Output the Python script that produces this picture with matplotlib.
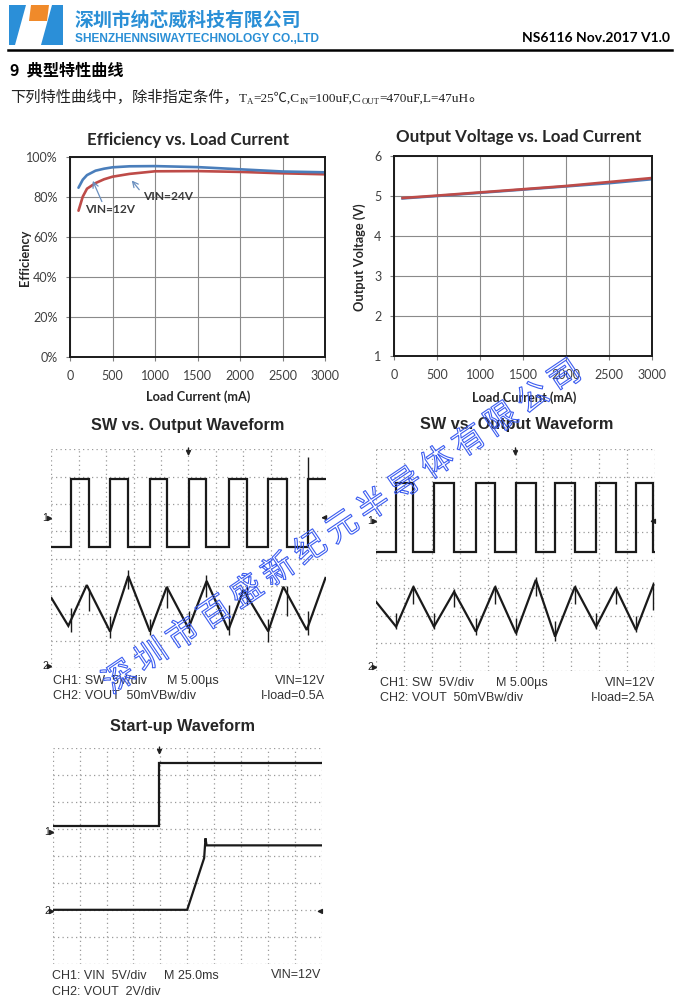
import matplotlib
matplotlib.use('Agg')
import matplotlib.pyplot as plt
from matplotlib.patches import Polygon
import matplotlib.patheffects as pe

# ---------------- data ----------------
load_ticks = [0, 500, 1000, 1500, 2000, 2500, 3000]
eff_ticks = [0, 20, 40, 60, 80, 100]
eff_load = [100, 150, 200, 300, 400, 500, 700, 1000, 1500, 2000, 2500, 3000]
eff_vin12 = [84.5, 88.5, 90.8, 93.0, 94.0, 94.7, 95.2, 95.3, 94.8, 93.7, 92.6, 92.2]
eff_vin24 = [73.0, 80.0, 84.0, 86.8, 88.7, 90.0, 91.4, 92.7, 92.8, 92.4, 91.7, 91.2]

vout_ticks = [1, 2, 3, 4, 5, 6]
vout_load = [100, 500, 1000, 1500, 2000, 2500, 3000]
vout_vin12 = [4.94, 5.00, 5.08, 5.16, 5.24, 5.32, 5.42]
vout_vin24 = [4.95, 5.01, 5.09, 5.17, 5.25, 5.35, 5.45]

# scope 1 (I-load = 0.5A), units: divisions
s1_edges = [0.715, 1.394, 2.145, 2.812, 3.60, 4.206, 5.018, 5.624, 6.473, 7.115, 7.903, 8.57, 9.358]
s1_sw_low, s1_sw_high = 4.44, 6.90
s1_sw_spk_t = [9.358]
s1_sw_spk_lo = [6.90]
s1_sw_spk_hi = [7.72]
s1_rip_t = [0.02, 0.63, 1.30, 2.15, 2.81, 3.60, 4.21, 5.00, 5.66, 6.45, 7.00, 7.90, 8.45, 9.30, 9.98]
s1_rip_v = [2.56, 1.55, 3.04, 1.34, 3.37, 1.34, 2.97, 1.46, 3.19, 1.40, 2.86, 1.35, 2.98, 1.40, 3.30]
s1_spk_lo = [1.33, 2.10, 1.10, 2.90, 1.20, 2.20, 1.30, 2.60, 1.20, 2.30, 0.95, 1.90, 1.20]
s1_spk_hi = [2.20, 2.90, 1.90, 3.60, 1.80, 3.00, 2.10, 3.40, 2.30, 3.00, 1.80, 3.00, 2.10]

# scope 2 (I-load = 2.5A)
s2_edges = [0.717, 1.338, 2.079, 2.796, 3.584, 4.265, 5.018, 5.735, 6.416, 7.133, 7.885, 8.602, 9.319, 9.94]
s2_sw_low, s2_sw_high = 4.31, 6.80
s2_rip_t = [0.00, 0.72, 1.34, 2.08, 2.80, 3.58, 4.27, 5.02, 5.73, 6.42, 7.13, 7.89, 8.60, 9.32, 9.94]
s2_rip_v = [2.50, 1.60, 3.04, 1.60, 2.86, 1.42, 3.04, 1.36, 3.29, 1.24, 3.04, 1.60, 2.99, 1.48, 3.10]
s2_spk_lo = [1.50, 2.40, 1.50, 2.30, 1.30, 2.40, 1.30, 2.70, 1.10, 2.40, 1.50, 2.40, 1.40, 2.20]
s2_spk_hi = [2.10, 3.10, 2.10, 2.95, 1.90, 3.10, 1.90, 3.40, 1.80, 3.10, 2.10, 3.05, 2.00, 3.20]

# scope 3 (start-up)
s3_ch1_t = [0.0, 3.96, 3.96, 10.0]
s3_ch1_v = [5.12, 5.12, 7.44, 7.44]
s3_ch2_t = [0.0, 5.00, 5.63, 5.68, 5.72, 10.0]
s3_ch2_v = [2.01, 2.01, 3.93, 4.66, 4.40, 4.40]

watermark = "深圳市百盛新纪元半导体有限公司"

# ---------------- figure ----------------
W, H = 681, 1000
fig = plt.figure(figsize=(6.81, 10), dpi=100)
fig.patch.set_facecolor('white')
CJK = ['Noto Sans CJK SC', 'DejaVu Sans']


def rect(l, t, r, b):
    return [l / W, 1 - b / H, (r - l) / W, (b - t) / H]


def X(px):
    return px / W


def Y(py):
    return 1 - py / H


# ---- header ----
hdr = fig.add_axes([0, 0, 1, 1], zorder=-5)
hdr.set_xlim(0, W)
hdr.set_ylim(H, 0)
hdr.axis('off')
blue_logo = '#2b8fd8'
hdr.add_patch(Polygon([(9, 5), (26, 5), (15, 45), (9, 45)], closed=True, fc=blue_logo, ec='none'))
hdr.add_patch(Polygon([(31, 5), (49, 5), (47, 21), (29, 21)], closed=True, fc='#f08a2a', ec='none'))
hdr.add_patch(Polygon([(52, 5), (63, 5), (63, 45), (41, 45)], closed=True, fc=blue_logo, ec='none'))
hdr.plot([8, 672], [50, 50], color='black', lw=1.8)

fig.text(X(75), Y(20), "深圳市纳芯威科技有限公司", family=CJK, fontweight='bold',
         fontsize=13.6, color='#2a8fd6', va='center', ha='left')
fig.text(X(75), Y(39), "SHENZHENNSIWAYTECHNOLOGY CO.,LTD", family='Liberation Sans',
         fontweight='bold', fontsize=8.6, color='#2a8fd6', va='center', ha='left')
fig.text(X(670), Y(38), "NS6116 Nov.2017 V1.0", family='Lato', fontweight='bold',
         fontsize=10, color='black', va='center', ha='right')
fig.text(X(10), Y(70), "9  典型特性曲线", family=CJK, fontweight='bold',
         fontsize=11.6, color='black', va='center', ha='left')

# description line with subscripts
fig.canvas.draw()
renderer = fig.canvas.get_renderer()
SER = ['Liberation Serif', 'Noto Sans CJK SC']
segs = [("下列特性曲线中，除非指定条件，", 0, 11.0, CJK),
        ("T", 0, 9.5, SER),
        ("A", -2.5, 6.3, SER),
        ("=25℃,C", 0, 9.5, SER),
        ("IN", -2.5, 6.3, SER),
        ("=100uF,C", 0, 9.5, SER),
        ("OUT", -2.5, 6.3, SER),
        ("=470uF,L=47uH", 0, 9.5, SER),
        ("。", 0, 11.0, CJK)]
xcur = 10
for s, dy, fs, fam in segs:
    t = fig.text(X(xcur), Y(101.5 - dy), s, family=fam, fontsize=fs, color='#222222',
                 va='baseline', ha='left')
    xcur += t.get_window_extent(renderer).width

# ---- Excel-like charts ----
series_blue = '#4a7ebb'
series_red = '#be4b48'


def excel_axes(r, xt, yt, ylim, yfmt):
    ax = fig.add_axes(r)
    ax.set_xlim(0, 3000)
    ax.set_ylim(*ylim)
    ax.set_xticks(xt)
    ax.set_yticks(yt)
    ax.set_yticklabels([yfmt(v) for v in yt])
    ax.grid(True, color='#8a8a8a', lw=0.8)
    ax.set_axisbelow(True)
    for sp in ax.spines.values():
        sp.set_color('#1a1a1a')
        sp.set_linewidth(1.4)
    ax.tick_params(direction='out', length=3, width=0.8, color='#808080',
                   labelcolor='#404040', labelsize=9)
    ax.tick_params(axis='x', pad=6.5)
    ax.tick_params(axis='y', pad=6)
    for lab in ax.get_xticklabels() + ax.get_yticklabels():
        lab.set_family('Lato')
    return ax


ax1 = excel_axes(rect(70, 156.7, 325, 356.7), load_ticks, eff_ticks, (0, 100),
                 lambda v: f"{v:d}%")
ax1.plot(eff_load, eff_vin24, color=series_red, lw=1.9, solid_capstyle='round')
ax1.plot(eff_load, eff_vin12, color=series_blue, lw=1.9, solid_capstyle='round')
ax1.annotate("", xy=(255, 89.2), xytext=(388, 76.3),
             arrowprops=dict(arrowstyle='->', color='#6a8fbf', lw=0.9))
ax1.annotate("", xy=(706, 89.2), xytext=(835, 82.4),
             arrowprops=dict(arrowstyle='->', color='#6a8fbf', lw=0.9))
ax1.text(175, 73.6, "VIN=12V", family='Lato', fontweight='bold', fontsize=8.6,
         color='#3a3a3a', va='center', ha='left')
ax1.text(855, 80.2, "VIN=24V", family='Lato', fontweight='bold', fontsize=8.6,
         color='#3a3a3a', va='center', ha='left')
fig.text(X(188), Y(140), "Efficiency vs. Load Current", family='Lato', fontweight='bold',
         fontsize=12.2, color='#262626', ha='center', va='center')
fig.text(X(198), Y(397), "Load Current (mA)", family='Lato', fontweight='bold',
         fontsize=9.2, color='#262626', ha='center', va='center')
fig.text(X(25), Y(258), "Efficiency", family='Lato', fontweight='bold',
         fontsize=9.2, color='#262626', ha='center', va='center', rotation=90)

ax2 = excel_axes(rect(394, 156, 652, 356), load_ticks, vout_ticks, (1, 6),
                 lambda v: f"{v:d}")
ax2.plot(vout_load, vout_vin12, color=series_blue, lw=1.9)
ax2.plot(vout_load, vout_vin24, color=series_red, lw=1.9)
fig.text(X(519), Y(137), "Output Voltage vs. Load Current", family='Lato', fontweight='bold',
         fontsize=12.2, color='#262626', ha='center', va='center')
fig.text(X(524), Y(398), "Load Current (mA)", family='Lato', fontweight='bold',
         fontsize=9.2, color='#262626', ha='center', va='center')
fig.text(X(360), Y(257), "Output Voltage (V)", family='Lato', fontweight='bold',
         fontsize=9.2, color='#262626', ha='center', va='center', rotation=90)


# ---- scope screens ----
def square(edges, lo, hi):
    xs, ys = [0.0], [lo]
    level = lo
    for e in edges:
        new = hi if level == lo else lo
        xs += [e, e]
        ys += [level, new]
        level = new
    xs.append(10.0)
    ys.append(level)
    return xs, ys


def scope_axes(r, ch1_mark, ch2_mark, right_mark, trig_x):
    ax = fig.add_axes(r)
    ax.set_xlim(0, 10)
    ax.set_ylim(0, 8)
    ax.axis('off')
    dot = dict(color='#9a9a9a', lw=0.9, ls=(0, (1, 2.6)), zorder=1)
    for i in range(11):
        ax.plot([i, i], [0, 8], **dot)
    for j in range(9):
        ax.plot([0, 10], [j, j], **dot)
    ax.text(-0.1, ch1_mark, "1", fontsize=7.5, family='Liberation Sans', ha='right', va='center',
            color='#222222')
    ax.plot([-0.08], [ch1_mark], marker='>', ms=3, color='#222222', clip_on=False)
    ax.text(-0.1, ch2_mark, "2", fontsize=7.5, family='Liberation Sans', ha='right', va='center',
            color='#222222')
    ax.plot([-0.08], [ch2_mark], marker='>', ms=3, color='#222222', clip_on=False)
    ax.annotate("", xy=(trig_x, 7.65), xytext=(trig_x, 8.15),
                arrowprops=dict(arrowstyle='-|>', color='#222222', lw=1.0, mutation_scale=7),
                annotation_clip=False)
    ax.annotate("", xy=(9.72, right_mark), xytext=(10.1, right_mark),
                arrowprops=dict(arrowstyle='-|>', color='#222222', lw=1.0, mutation_scale=7),
                annotation_clip=False)
    return ax


TR = dict(color='#1a1a1a', lw=1.6, zorder=3, solid_joinstyle='miter')
SPK = dict(color='#1a1a1a', lw=1.0, zorder=3)
sfont = dict(family='Liberation Sans', fontsize=9, color='#333333', va='center')
tfont = dict(family='Liberation Sans', fontweight='bold', fontsize=11.7, color='#262626',
             ha='center', va='center')

# scope 1
sa = scope_axes(rect(51, 449.3, 326, 668.3), 5.5, 0.1, 5.5, 5.0)
xs, ys = square(s1_edges, s1_sw_low, s1_sw_high)
sa.plot(xs, ys, **TR)
sa.vlines(s1_sw_spk_t, s1_sw_spk_lo, s1_sw_spk_hi, **SPK)
sa.plot(s1_rip_t, s1_rip_v, **TR)
sa.vlines(s1_edges, s1_spk_lo, s1_spk_hi, **SPK)
fig.text(X(188), Y(426), "SW vs. Output Waveform", **tfont)
fig.text(X(53), Y(681), "CH1: SW  5V/div", ha='left', **sfont)
fig.text(X(167), Y(681), "M 5.00µs", ha='left', **sfont)
fig.text(X(325), Y(681), "VIN=12V", ha='right', **sfont)
fig.text(X(53), Y(696), "CH2: VOUT  50mVBw/div", ha='left', **sfont)
fig.text(X(325), Y(696), "I-load=0.5A", ha='right', **sfont)

# scope 2
sb = scope_axes(rect(376, 449.3, 655, 671), 5.4, 0.15, 5.4, 5.0)
xs, ys = square(s2_edges, s2_sw_low, s2_sw_high)
sb.plot(xs, ys, **TR)
sb.plot(s2_rip_t, s2_rip_v, **TR)
sb.vlines(s2_edges, s2_spk_lo, s2_spk_hi, **SPK)
fig.text(X(517), Y(425), "SW vs. Output Waveform", **tfont)
fig.text(X(380), Y(683), "CH1: SW  5V/div", ha='left', **sfont)
fig.text(X(496), Y(683), "M 5.00µs", ha='left', **sfont)
fig.text(X(655), Y(683), "VIN=12V", ha='right', **sfont)
fig.text(X(380), Y(698), "CH2: VOUT  50mVBw/div", ha='left', **sfont)
fig.text(X(655), Y(698), "I-load=2.5A", ha='right', **sfont)

# scope 3
sc = scope_axes(rect(52.7, 748.3, 321.7, 964), 4.9, 1.98, 1.95, 3.97)
sc.plot(s3_ch1_t, s3_ch1_v, **TR)
sc.plot(s3_ch2_t, s3_ch2_v, **TR)
fig.text(X(183), Y(726), "Start-up Waveform", **tfont)
fig.text(X(52), Y(976), "CH1: VIN  5V/div", ha='left', **sfont)
fig.text(X(164), Y(976), "M 25.0ms", ha='left', **sfont)
fig.text(X(321), Y(975), "VIN=12V", ha='right', **sfont)
fig.text(X(52), Y(992), "CH2: VOUT  2V/div", ha='left', **sfont)

# ---- watermark (hollow blue characters) ----
for i, ch in enumerate(watermark):
    px = 120 + i * 31.8
    py = 678 - i * 21.5
    fig.text(X(px), Y(py), ch, family=CJK, fontsize=23, color=(0, 0, 0, 0),
             ha='center', va='center', rotation=34, zorder=50,
             path_effects=[pe.Stroke(linewidth=0.8, foreground='#3b5cf0')])

fig.savefig('out.png', dpi=100, facecolor='white')
